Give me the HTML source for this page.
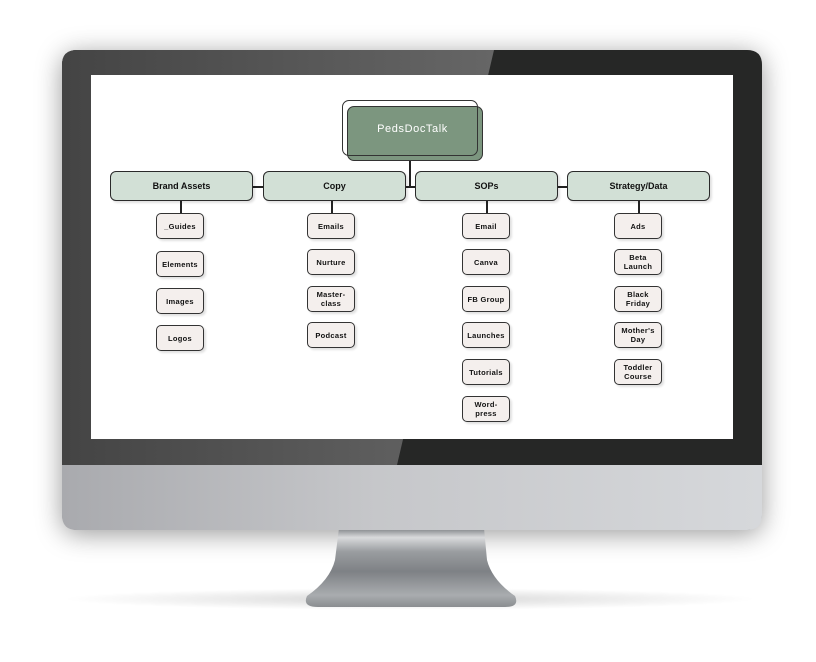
<!DOCTYPE html>
<html><head><meta charset="utf-8"><style>
*{margin:0;padding:0;box-sizing:border-box}
body{width:816px;height:662px;background:#fff;position:relative;overflow:hidden;font-family:"Liberation Sans",sans-serif}
.a{position:absolute}
.cat{position:absolute;height:30px;width:143px;background:#d2e0d6;border:1.5px solid #2a2a2a;border-radius:6px;font-size:9px;font-weight:bold;color:#111;display:flex;align-items:center;justify-content:center;box-shadow:2px 2px 2px rgba(0,0,0,.12)}
.ch{position:absolute;width:48px;height:26px;background:#f4efed;border:1.3px solid #333;border-radius:5px;font-size:7.5px;font-weight:bold;color:#111;display:flex;align-items:center;justify-content:center;text-align:center;line-height:9px;box-shadow:2px 2px 2px rgba(0,0,0,.12);letter-spacing:.3px}
.ln{position:absolute;background:#222}
</style></head><body>
<!-- shadows -->
<div class="a" style="left:62px;top:50px;width:700px;height:480px;border-radius:15px;background:#888;box-shadow:0 4px 26px rgba(0,0,0,.4)"></div>
<div class="a" style="left:60px;top:588px;width:700px;height:22px;border-radius:50%;background:radial-gradient(ellipse,rgba(0,0,0,.16),rgba(0,0,0,0) 70%)"></div>
<!-- stand -->
<svg class="a" style="left:0;top:0" width="816" height="662">
<defs>
<linearGradient id="st" x1="0" y1="0" x2="0" y2="1">
<stop offset="0" stop-color="#7c7f83"/><stop offset=".12" stop-color="#d9dadc"/><stop offset=".3" stop-color="#9a9da0"/><stop offset=".55" stop-color="#7e8185"/><stop offset=".85" stop-color="#a9acaf"/><stop offset="1" stop-color="#8a8d90"/></linearGradient>
<linearGradient id="chin" x1="0" y1="0" x2="1" y2="0">
<stop offset="0" stop-color="#a9aaae"/><stop offset=".45" stop-color="#c6c7ca"/><stop offset="1" stop-color="#d6d8db"/></linearGradient>
<linearGradient id="bz" x1="0" y1="0" x2="1" y2="0">
<stop offset="0" stop-color="#444"/><stop offset="1" stop-color="#666"/></linearGradient>
</defs>
<path d="M339 528 L484 528 L487 560 Q492 580 515 596 Q520 607 505 607 L318 607 Q302 607 307 596 Q330 580 335 560 Z" fill="url(#st)"/>
<path d="M62 465 L762 465 L762 515 Q762 530 747 530 L77 530 Q62 530 62 515 Z" fill="url(#chin)"/>
<path d="M77 50 L747 50 Q762 50 762 65 L762 465 L62 465 L62 65 Q62 50 77 50 Z" fill="#262726"/>
<path d="M77 50 L494 50 L397 465 L62 465 L62 65 Q62 50 77 50 Z" fill="url(#bz)"/>
<rect x="91" y="75" width="642" height="364" fill="#fff"/>
</svg>
<!-- root -->
<div class="a" style="left:347px;top:106px;width:136px;height:55px;background:#7c967f;border:1.5px solid #333;border-radius:7px"></div>
<div class="a" style="left:342px;top:100px;width:136px;height:56px;border:1.3px solid #333;border-radius:7px"></div>
<div class="a" style="left:347px;top:123px;width:131px;text-align:center;color:#fff;font-size:11px;letter-spacing:.6px">PedsDocTalk</div>
<div class="ln" style="left:409px;top:161px;width:1.5px;height:26px"></div>
<div class="ln" style="left:253px;top:186px;width:162px;height:1.5px"></div>
<div class="ln" style="left:557px;top:186px;width:10px;height:1.5px"></div>
<!-- categories -->
<div class="cat" style="left:110px;top:171px">Brand Assets</div>
<div class="cat" style="left:263px;top:171px">Copy</div>
<div class="cat" style="left:415px;top:171px">SOPs</div>
<div class="cat" style="left:567px;top:171px">Strategy/Data</div>
<div class="ln" style="left:180px;top:201px;width:1.5px;height:12px"></div>
<div class="ln" style="left:331px;top:201px;width:1.5px;height:12px"></div>
<div class="ln" style="left:486px;top:201px;width:1.5px;height:12px"></div>
<div class="ln" style="left:638px;top:201px;width:1.5px;height:12px"></div>
<!-- children -->
<div class="ch" style="left:156px;top:213px">_Guides</div>
<div class="ch" style="left:156px;top:251px">Elements</div>
<div class="ch" style="left:156px;top:288px">Images</div>
<div class="ch" style="left:156px;top:325px">Logos</div>

<div class="ch" style="left:307px;top:213px">Emails</div>
<div class="ch" style="left:307px;top:249px">Nurture</div>
<div class="ch" style="left:307px;top:286px">Master-<br>class</div>
<div class="ch" style="left:307px;top:322px">Podcast</div>

<div class="ch" style="left:462px;top:213px">Email</div>
<div class="ch" style="left:462px;top:249px">Canva</div>
<div class="ch" style="left:462px;top:286px">FB Group</div>
<div class="ch" style="left:462px;top:322px">Launches</div>
<div class="ch" style="left:462px;top:359px">Tutorials</div>
<div class="ch" style="left:462px;top:396px">Word-<br>press</div>

<div class="ch" style="left:614px;top:213px">Ads</div>
<div class="ch" style="left:614px;top:249px">Beta<br>Launch</div>
<div class="ch" style="left:614px;top:286px">Black<br>Friday</div>
<div class="ch" style="left:614px;top:322px">Mother's<br>Day</div>
<div class="ch" style="left:614px;top:359px">Toddler<br>Course</div>
</body></html>
